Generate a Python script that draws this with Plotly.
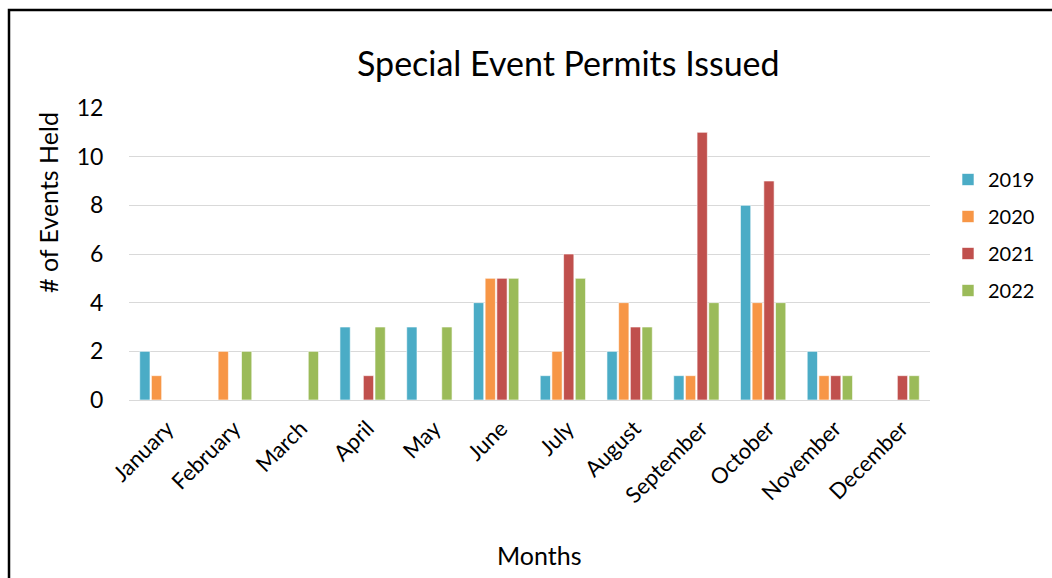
import plotly.graph_objects as go

months = ["January", "February", "March", "April", "May", "June",
          "July", "August", "September", "October", "November", "December"]
years = ["2019", "2020", "2021", "2022"]
events_2019 = [2, 0, 0, 3, 3, 4, 1, 2, 1, 8, 2, 0]
events_2020 = [1, 2, 0, 0, 0, 5, 2, 4, 1, 4, 1, 0]
events_2021 = [0, 0, 0, 1, 0, 5, 6, 3, 11, 9, 1, 1]
events_2022 = [0, 2, 2, 3, 3, 5, 5, 3, 4, 4, 1, 1]
y_ticks = [0, 2, 4, 6, 8, 10, 12]

series = [events_2019, events_2020, events_2021, events_2022]
colors = ["#4BACC6", "#F79646", "#C0504D", "#9BBB59"]

W, H = 1052, 578
L, R, T, B = 129, 122, 108, 178
pw, ph = W - L - R, H - T - B

FONT = "Lato, Carlito, Calibri, sans-serif"

fig = go.Figure()
for name, vals, col in zip(years, series, colors):
    fig.add_trace(go.Bar(
        x=months, y=vals, name=name, legendgroup=name,
        marker=dict(color=col, line=dict(color="rgba(255,255,255,0.6)", width=1)),
    ))


def px_x(p):
    return (p - L) / pw


def px_y(p):
    return (H - B - p) / ph


fig.update_layout(
    width=W, height=H,
    margin=dict(l=L, r=R, t=T, b=B, autoexpand=False),
    paper_bgcolor="white", plot_bgcolor="white",
    barmode="group", bargap=0.3, bargroupgap=0.12,
    font=dict(family=FONT, color="#000000", size=22),
    xaxis=dict(tickangle=-45, showgrid=False, showline=False,
               ticks="outside", ticklen=6, tickcolor="rgba(0,0,0,0)",
               tickfont=dict(size=22), automargin=False,
               ticklabelshift=5),
    yaxis=dict(range=[0, 12], tickvals=y_ticks, showgrid=True,
               gridcolor="#D9D9D9", gridwidth=1.3, zeroline=True,
               zerolinecolor="#D9D9D9", zerolinewidth=1.3,
               ticks="outside", ticklen=20, tickcolor="rgba(0,0,0,0)",
               tickfont=dict(size=23), automargin=False),
    legend=dict(x=px_x(948), y=px_y(160), xanchor="left", yanchor="top",
                font=dict(size=20), tracegroupgap=8, bgcolor="rgba(0,0,0,0)"),
    showlegend=True,
    annotations=[
        dict(text="Special Event Permits Issued", x=px_x(568), y=px_y(62),
             xref="paper", yref="paper", showarrow=False,
             xanchor="center", yanchor="middle",
             font=dict(size=34, family=FONT)),
        dict(text="# of Events Held", x=px_x(48), y=px_y(203),
             xref="paper", yref="paper", showarrow=False, textangle=-90,
             xanchor="center", yanchor="middle",
             font=dict(size=25, family=FONT)),
        dict(text="Months", x=px_x(539), y=px_y(555),
             xref="paper", yref="paper", showarrow=False,
             xanchor="center", yanchor="middle",
             font=dict(size=25, family=FONT)),
    ],
    shapes=[
        dict(type="rect", xref="paper", yref="paper",
             x0=px_x(9), y0=px_y(H + 20), x1=px_x(W + 20), y1=px_y(10),
             line=dict(color="black", width=2.5), fillcolor="rgba(0,0,0,0)"),
    ],
)

fig.write_html("out.html")
